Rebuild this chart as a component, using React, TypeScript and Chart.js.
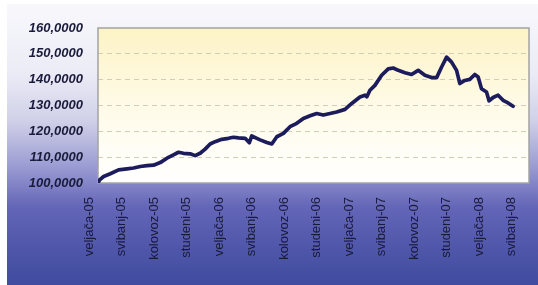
import React, { useEffect, useRef } from "react";
import { Chart, registerables } from "chart.js";

Chart.register(...registerables);

const xLabels = [
  "veljača-05", "svibanj-05", "kolovoz-05", "studeni-05",
  "veljača-06", "svibanj-06", "kolovoz-06", "studeni-06",
  "veljača-07", "svibanj-07", "kolovoz-07", "studeni-07",
  "veljača-08", "svibanj-08",
];

// months elapsed since February 2005
const months = [
  0, 0.15, 0.52, 1.13, 1.9, 2.67, 3.28, 3.9, 4.51, 5.12, 5.74, 6.36, 6.96, 7.42,
  7.88, 8.5, 8.96, 9.42, 9.88, 10.34, 10.8, 11.42, 12.03, 12.49, 12.95, 13.57,
  13.96, 14.18, 14.65, 14.95, 15.57, 16.03, 16.49, 17.1, 17.71, 18.33, 18.94,
  19.56, 20.17, 20.78, 21.4, 22.01, 22.78, 23.4, 24.16, 24.62, 24.8, 25.08,
  25.54, 26.16, 26.77, 27.23, 27.69, 28.31, 28.92, 29.53, 30.15, 30.76, 31.23,
  31.69, 32.15, 32.61, 33.07, 33.37, 33.83, 34.29, 34.75, 35.06, 35.37, 35.83,
  36.07, 36.44, 36.9, 37.36, 37.82, 38.28,
];

const values = [
  100, 101.2, 102.5, 103.6, 105.1, 105.5, 105.8, 106.4, 106.7, 106.9, 107.9,
  109.6, 110.9, 111.9, 111.5, 111.3, 110.6, 111.5, 113.1, 115.1, 116, 116.9,
  117.3, 117.7, 117.5, 117.3, 115.6, 118.2, 117.3, 116.7, 115.7, 115.1, 117.9,
  119.2, 121.8, 123.1, 125, 126, 126.9, 126.3, 126.9, 127.5, 128.5, 130.8,
  133.3, 134, 133.4, 135.9, 137.8, 141.7, 144.2, 144.5, 143.6, 142.7, 142,
  143.6, 141.7, 140.8, 140.8, 144.9, 148.7, 146.8, 143.6, 138.5, 139.7, 140.1,
  142, 141, 136.5, 135.2, 131.8, 133.1, 134, 132, 131, 129.7,
];

const yTicks = [100, 110, 120, 130, 140, 150, 160];

const X_MAX = 39.75;

export default function App() {
  const ref = useRef<HTMLCanvasElement | null>(null);

  useEffect(() => {
    if (!ref.current) return;

    const bgPlugin = {
      id: "bgPlugin",
      beforeDraw(chart: any) {
        const { ctx, chartArea: a, width, height } = chart;
        ctx.save();
        ctx.fillStyle = "#ffffff";
        ctx.fillRect(0, 0, width, height);
        const g = ctx.createLinearGradient(0, 4, 0, height);
        g.addColorStop(0, "#f8f8fc");
        g.addColorStop(0.25, "#ebebf6");
        g.addColorStop(0.42, "#cfcfe8");
        g.addColorStop(0.58, "#9a9bd2");
        g.addColorStop(0.72, "#6466b8");
        g.addColorStop(0.85, "#5258ab");
        g.addColorStop(1, "#3f4c9f");
        ctx.fillStyle = g;
        ctx.fillRect(7, 4, width - 7, height - 4);
        const pg = ctx.createLinearGradient(0, a.top, 0, a.bottom);
        pg.addColorStop(0, "#fdf3c6");
        pg.addColorStop(0.55, "#fffbea");
        pg.addColorStop(1, "#ffffff");
        ctx.fillStyle = pg;
        ctx.fillRect(a.left, a.top, a.right - a.left, a.bottom - a.top);
        ctx.restore();
      },
      beforeDatasetsDraw(chart: any) {
        const { ctx, chartArea: a } = chart;
        ctx.save();
        ctx.strokeStyle = "#a3a3a3";
        ctx.lineWidth = 1.5;
        ctx.strokeRect(a.left, a.top, a.right - a.left, a.bottom - a.top);
        ctx.restore();
      },
    };

    const chart = new Chart(ref.current, {
      type: "line",
      data: {
        datasets: [
          {
            data: months.map((m, i) => ({ x: m, y: values[i] })),
            borderColor: "#1c1c5c",
            borderWidth: 3.7,
            borderJoinStyle: "round",
            borderCapStyle: "round",
            pointRadius: 0,
            tension: 0,
            fill: false,
          },
        ],
      },
      options: {
        animation: false,
        responsive: false,
        events: [],
        plugins: { legend: { display: false }, tooltip: { enabled: false } },
        layout: { padding: { left: 0, right: 9, top: 28, bottom: 0 } },
        scales: {
          x: {
            type: "linear",
            min: 0,
            max: X_MAX,
            afterBuildTicks: (s: any) => {
              s.ticks = xLabels.map((_, i) => ({ value: i * 3 }));
            },
            afterFit: (s: any) => {
              s.height = 102;
              s.paddingLeft = 0;
              s.paddingRight = 0;
            },
            grid: { display: false, drawTicks: false },
            border: { display: false },
            ticks: {
              autoSkip: false,
              minRotation: 90,
              maxRotation: 90,
              labelOffset: -9,
              padding: 14,
              color: "#1a1a3a",
              font: { family: "'Liberation Sans', Arial, sans-serif", size: 13 },
              callback: (v: any) => xLabels[Math.round(Number(v) / 3)] ?? "",
            },
          },
          y: {
            type: "linear",
            min: 100,
            max: 160,
            afterBuildTicks: (s: any) => {
              s.ticks = yTicks.map((v) => ({ value: v }));
            },
            afterFit: (s: any) => {
              s.width = 98;
              s.paddingTop = 0;
              s.paddingBottom = 0;
            },
            grid: {
              drawTicks: false,
              lineWidth: 1,
              color: (ctx: any) =>
                ctx.tick && (ctx.tick.value === 100 || ctx.tick.value === 160)
                  ? "rgba(0,0,0,0)"
                  : "#d2cdb6",
            },
            border: { display: false, dash: [5, 4] },
            ticks: {
              padding: 15,
              color: "#1a1a3a",
              font: {
                family: "'Liberation Sans', Arial, sans-serif",
                size: 13,
                weight: "bold",
                style: "italic",
              },
              callback: (v: any) => Number(v).toFixed(4).replace(".", ","),
            },
          },
        },
      },
      plugins: [bgPlugin],
    } as any);

    return () => chart.destroy();
  }, []);

  return (
    <div style={{ position: "absolute", left: 0, top: 0, width: 538, height: 285 }}>
      <canvas ref={ref} width={538} height={285} style={{ display: "block" }} />
    </div>
  );
}
